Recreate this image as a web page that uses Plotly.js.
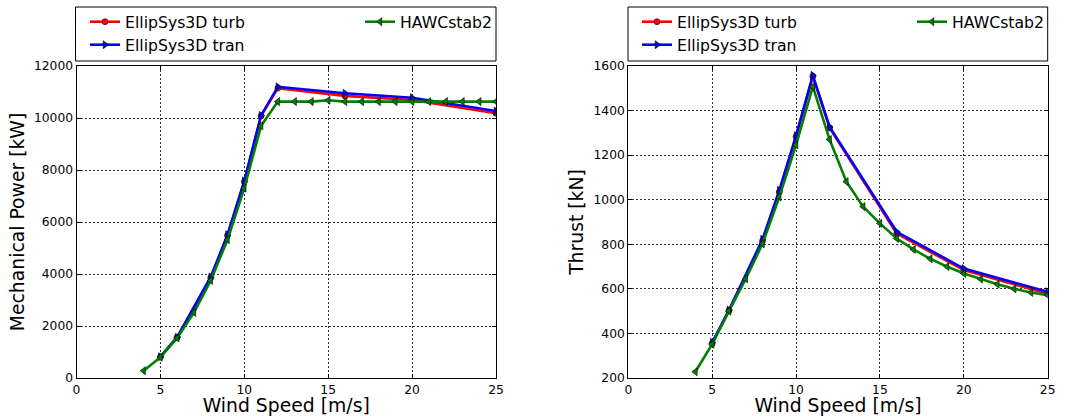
<!DOCTYPE html>
<html>
<head>
<meta charset="utf-8">
<script src="https://cdn.plot.ly/plotly-3.0.1.min.js"></script>
<style>html,body{margin:0;padding:0;background:#fff;}#chart{width:1066px;height:416px;}</style>
</head>
<body>
<div id="chart"></div>
<script>
// ---- data ----
const windES = [5, 6, 8, 9, 10, 11, 12, 16, 20, 25];
const windHS = [4, 5, 6, 7, 8, 9, 10, 11, 12, 13, 14, 15, 16, 17, 18, 19, 20, 21, 22, 23, 24, 25];

const powerTurb = [810, 1560, 3860, 5480, 7550, 10080, 11150, 10850, 10690, 10180];
const powerTran = [820, 1570, 3885, 5510, 7580, 10100, 11200, 10950, 10780, 10270];
const powerHS = [280, 800, 1540, 2520, 3750, 5320, 7300, 9700, 10630, 10630, 10630, 10680,
                 10630, 10630, 10630, 10630, 10630, 10630, 10630, 10630, 10630, 10630];

const thrustTurb = [355, 502, 815, 1035, 1283, 1553, 1322, 848, 684, 578];
const thrustTran = [360, 505, 822, 1042, 1288, 1558, 1327, 856, 691, 587];
const thrustHS = [228, 352, 500, 645, 802, 1012, 1246, 1507, 1270, 1081, 969, 894,
                  826, 777, 735, 700, 669, 644, 621, 600, 584, 572];

const seriesNames = ["EllipSys3D turb", "EllipSys3D tran", "HAWCstab2"];
const xTitle = "Wind Speed [m/s]";
const yTitlePower = "Mechanical Power [kW]";
const yTitleThrust = "Thrust [kN]";

// ---- styles ----
const FONT = "DejaVu Sans, Liberation Sans, sans-serif";
const styles = [
  {color: "#ff0000", symbol: "circle", size: 6},
  {color: "#0000ff", symbol: "triangle-right", size: 7},
  {color: "#008000", symbol: "triangle-left", size: 7}
];

function tr(x, y, i, xa, ya, leg) {
  const s = styles[i];
  return {
    x: x, y: y, type: "scatter", mode: "lines+markers", name: seriesNames[i],
    xaxis: xa, yaxis: ya, legend: leg, showlegend: true,
    line: {color: s.color, width: 2.6},
    marker: {symbol: s.symbol, size: s.size, color: s.color, line: {color: "#000", width: 0.6}}
  };
}

const data = [
  tr(windES, powerTurb, 0, "x", "y", "legend"),
  tr(windES, powerTran, 1, "x", "y", "legend2"),
  tr(windHS, powerHS, 2, "x", "y", "legend3"),
  tr(windES, thrustTurb, 0, "x2", "y2", "legend4"),
  tr(windES, thrustTran, 1, "x2", "y2", "legend5"),
  tr(windHS, thrustHS, 2, "x2", "y2", "legend6")
];

const W = 1066, H = 416;
const px = v => v / W;
const py = v => 1 - v / H;

function xaxisDef(domain, anchor) {
  return {
    domain: domain, range: [0, 25], dtick: 5, tick0: 0, anchor: anchor,
    showline: true, linecolor: "#000", linewidth: 1, mirror: "ticks",
    ticks: "inside", ticklen: 4, tickcolor: "#000",
    showgrid: true, gridcolor: "#000", gridwidth: 0.8, griddash: "2px,2px",
    zeroline: false, automargin: false,
    tickfont: {family: FONT, size: 12.3, color: "#000"},
    title: {text: xTitle, font: {family: FONT, size: 18.8, color: "#000"}, standoff: 1}
  };
}
function yaxisDef(range, dtick, title, anchor) {
  return {
    domain: [py(378), py(66)], range: range, dtick: dtick, anchor: anchor, tickformat: "d",
    showline: true, linecolor: "#000", linewidth: 1, mirror: "ticks",
    ticks: "inside", ticklen: 4, tickcolor: "#000",
    showgrid: true, gridcolor: "#000", gridwidth: 0.8, griddash: "2px,2px",
    zeroline: false, automargin: false,
    tickfont: {family: FONT, size: 12.3, color: "#000"},
    title: {text: title, font: {family: FONT, size: 18.8, color: "#000"}, standoff: 4}
  };
}

function legDef(xpx, ypx) {
  return {
    x: px(xpx), y: py(ypx), xanchor: "left", yanchor: "top", orientation: "v",
    bgcolor: "rgba(0,0,0,0)", borderwidth: 0, itemwidth: 30,
    font: {family: FONT, size: 15.7, color: "#000"}, tracegroupgap: 0
  };
}

const layout = {
  width: W, height: H,
  margin: {l: 0, r: 0, t: 0, b: 0},
  paper_bgcolor: "#fff", plot_bgcolor: "#fff",
  font: {family: FONT, color: "#000"},
  xaxis: xaxisDef([px(76.5), px(496)], "y"),
  yaxis: yaxisDef([0, 12000], 2000, yTitlePower, "x"),
  xaxis2: xaxisDef([px(628.3), px(1047.7)], "y2"),
  yaxis2: yaxisDef([200, 1600], 200, yTitleThrust, "x2"),
  legend: legDef(85, 5),
  legend2: legDef(85, 28),
  legend3: legDef(360, 5),
  legend4: legDef(637, 5),
  legend5: legDef(637, 28),
  legend6: legDef(912, 5),
  shapes: [
    {type: "rect", xref: "paper", yref: "paper", x0: px(75.5), x1: px(496), y0: py(61), y1: py(7),
     line: {color: "#000", width: 1}, fillcolor: "rgba(0,0,0,0)"},
    {type: "rect", xref: "paper", yref: "paper", x0: px(628), x1: px(1047.7), y0: py(61), y1: py(7),
     line: {color: "#000", width: 1}, fillcolor: "rgba(0,0,0,0)"}
  ]
};

Plotly.newPlot("chart", data, layout, {staticPlot: true, displayModeBar: false});
</script>
</body>
</html>
